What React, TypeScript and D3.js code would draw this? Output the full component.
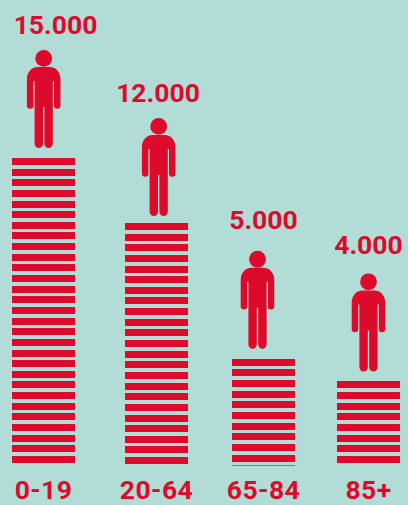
import { useEffect, useRef } from "react";
import * as d3 from "d3";

const categories = ["0-19", "20-64", "65-84", "85+"];
const values = [15000, 12000, 5000, 4000];
const valueLabels = ["15.000", "12.000", "5.000", "4.000"];
// stripes drawn per column, the third one ends in a thin sliver
const stripeCounts = [29, 23, 10.14, 8];

const W = 408;
const H = 505;
const RED = "#de0a2b";
const BG = "#b2dcd6";
const FONT = "Roboto, sans-serif";

const BAR_W = 63;
const STRIPE_H = 7;
const STRIPE_PITCH = 10.64;

// how far above the column the figure and the number sit
const personLift = [108, 105, 108, 108];
const labelLift = [124, 121, 130, 127];

const PERSON = [
    "M-6,17 L6,17 C12.5,17 16.8,22.5 16.8,29.5 L16.8,55.5",
    "A3.25,3.25 0 0 1 10.3,55.5 L10.3,31 L9.1,31 L9.1,93.8",
    "A4.2,4.2 0 0 1 0.7,93.8 L0.7,57 L-0.7,57 L-0.7,93.8",
    "A4.2,4.2 0 0 1 -9.1,93.8 L-9.1,31 L-10.3,31 L-10.3,55.5",
    "A3.25,3.25 0 0 1 -16.8,55.5 L-16.8,29.5 C-16.8,22.5 -12.5,17 -6,17 Z",
].join( " " );

export default function App ()
{
    const svgRef = useRef<SVGSVGElement>( null );

    useEffect( () =>
    {
        if ( !svgRef.current ) return;
        const svg = d3.select( svgRef.current );
        svg.selectAll( "*" ).remove();

        const x = d3.scaleOrdinal<string, number>().domain( categories ).range( [43.5, 156.5, 263.5, 368.5] );
        const personX = d3.scaleOrdinal<string, number>().domain( categories ).range( [43.7, 158.7, 257.5, 368.5] );
        const labelX = d3.scaleOrdinal<string, number>().domain( categories ).range( [55.5, 158, 263.5, 368.5] );

        // uneven on purpose, the columns in the picture are not to scale
        const y = d3.scaleLinear().domain( [4000, 5000, 12000, 15000] ).range( [381.4, 358.8, 223, 158] );

        svg.append( "rect" ).attr( "width", W ).attr( "height", H ).attr( "fill", BG );

        categories.forEach( ( cat, i ) =>
        {
            const top = y( values[i] );
            const cx = x( cat );
            const g = svg.append( "g" ).attr( "fill", RED );

            // Stripes
            const stripes = d3.range( Math.ceil( stripeCounts[i] ) );
            g.selectAll( "rect" ).data( stripes ).join( "rect" )
                .attr( "x", Math.round( cx - BAR_W / 2 ) )
                .attr( "y", ( d ) => Math.round( top + d * STRIPE_PITCH ) )
                .attr( "width", BAR_W )
                .attr( "height", ( d ) => Math.max( 1, Math.round( Math.min( 1, stripeCounts[i] - d ) * STRIPE_H ) ) )
                .attr( "opacity", ( d ) => ( stripeCounts[i] - d < 1 ? 0.6 : 1 ) )
                .attr( "shape-rendering", "crispEdges" );

            // Person
            const person = g.append( "g" )
                .attr( "transform", `translate(${ personX( cat ) },${ top - personLift[i] })` );
            person.append( "circle" ).attr( "cy", 8.4 ).attr( "r", 8.4 );
            person.append( "path" ).attr( "d", PERSON );

            // Value
            g.append( "text" )
                .attr( "x", labelX( cat ) )
                .attr( "y", top - labelLift[i] )
                .attr( "text-anchor", "middle" )
                .style( "font-family", FONT ).style( "font-weight", "700" ).style( "font-size", "26.5px" )
                .text( valueLabels[i] );

            // Age group
            g.append( "text" )
                .attr( "x", cx )
                .attr( "y", 499 )
                .attr( "text-anchor", "middle" )
                .style( "font-family", FONT ).style( "font-weight", "700" ).style( "font-size", "26.5px" )
                .style( "letter-spacing", "0.4px" )
                .text( cat );
        } );
    }, [] );

    return <svg ref={ svgRef } width={ W } height={ H } style={ { position: "absolute", left: 0, top: 0, display: "block" } } />;
}
